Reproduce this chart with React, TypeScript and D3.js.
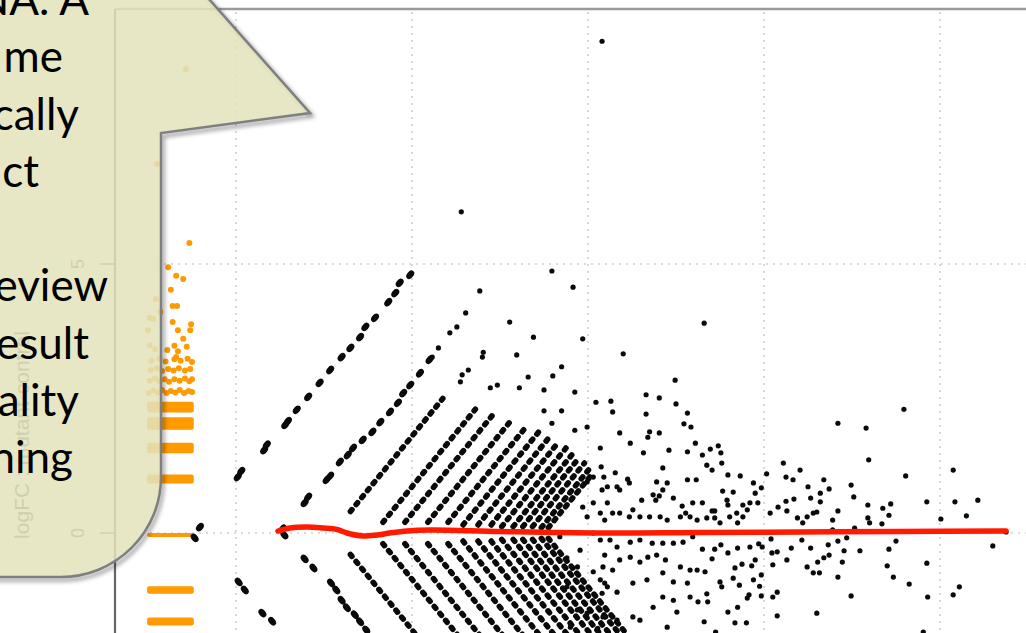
import React from "react";
import * as d3 from "d3";

const W = 1026;
const H = 633;

// ---------- data ----------
const xGridTicks = [0, 2, 4, 6, 8];
const yTicks = [0, 5];
const yTickLabels = ["0", "5"];
const yAxisTitle = "logFC : mutant-control";

// A range of the orange smear (genes with zero counts in one group)
const smearRange = [-1.01, -0.48];
// logFC ranges of the dense smear levels [low, high]
const orangeLevels: [number, number][] = [
  [-1.71, -1.58], [-1.12, -1.0], [-0.065, -0.01], [0.93, 1.08],
  [1.49, 1.67], [1.93, 2.14], [2.25, 2.43],
];
// sparse smear points [A, logFC]
const orangePoints: [number, number][] = [
  [-0.99, 2.6], [-0.94, 2.65], [-0.89, 2.61], [-0.84, 2.66], [-0.79, 2.6], [-0.74, 2.64], [-0.69, 2.61],
  [-0.64, 2.66], [-0.59, 2.6], [-0.54, 2.64], [-0.5, 2.62],
  [-0.98, 2.83], [-0.92, 2.87], [-0.87, 2.82], [-0.81, 2.86], [-0.76, 2.81], [-0.7, 2.86], [-0.64, 2.83],
  [-0.58, 2.87], [-0.53, 2.82], [-0.5, 2.86],
  [-0.97, 3.03], [-0.9, 3.06], [-0.84, 3.01], [-0.77, 3.05], [-0.71, 3.02], [-0.65, 3.06], [-0.58, 3.02],
  [-0.52, 3.05],
  [-0.96, 3.2], [-0.87, 3.24], [-0.8, 3.19], [-0.7, 3.23], [-0.63, 3.2], [-0.55, 3.24],
  [-0.92, 3.42], [-0.78, 3.4], [-0.66, 3.38], [-0.56, 3.46], [-0.7, 3.48],
  [-0.53, 5.39], [-0.77, 4.94], [-0.68, 4.78], [-0.6, 4.72], [-0.74, 4.52], [-0.72, 4.22],
  [-0.67, 4.22], [-0.72, 3.92], [-0.51, 3.88], [-0.66, 3.77], [-0.52, 3.77], [-0.6, 3.61],
  [-0.68, 3.27], [-0.5, 3.18],
  [-0.57, 8.62], [-0.9, 6.86], [-0.91, 4.35], [-0.98, 4.0], [-0.94, 3.98], [-1.0, 3.77],
  [-0.98, 3.49], [-0.86, 4.11],
];

// discrete count bands drawn as lines [A0, M0, A1, M1]
const bandsUp: [number, number, number, number][] = [
  [1.3, 0.4, 2.35, 2.5], [1.67, 0.2, 2.72, 2.3], [1.92, 0.2, 2.92, 2.2],
  [2.18, 0.2, 3.13, 2.1], [2.41, 0.2, 3.31, 2.0], [2.58, 0.15, 3.45, 1.9],
  [2.75, 0.15, 3.57, 1.8], [2.9, 0.15, 3.67, 1.7], [3.02, 0.12, 3.76, 1.6],
  [3.15, 0.12, 3.84, 1.5], [3.26, 0.12, 3.9, 1.4], [3.37, 0.12, 3.96, 1.3],
  [3.47, 0.1, 4.02, 1.2], [3.55, 0.1, 4.05, 1.1],
];
const bandsDown: [number, number, number, number][] = [
  [1.3, -0.4, 2.1, -2.0], [1.67, -0.2, 2.57, -2.0], [1.92, -0.2, 2.82, -2.0],
  [2.18, -0.2, 3.08, -2.0], [2.41, -0.2, 3.31, -2.0], [2.58, -0.15, 3.5, -2.0],
  [2.75, -0.15, 3.67, -2.0], [2.9, -0.15, 3.82, -2.0], [3.02, -0.12, 3.96, -2.0],
  [3.15, -0.12, 4.09, -2.0], [3.26, -0.12, 4.2, -2.0], [3.37, -0.12, 4.31, -2.0],
  [3.47, -0.1, 4.42, -2.0], [3.55, -0.1, 4.5, -2.0],
];

// black gene points [A, logFC]
const bandPoints: [number, number][] = [
  // lowest count band above zero
  [0.02, 1.04], [0.06, 1.15], [0.32, 1.54], [0.35, 1.64], [0.56, 2.01], [0.59, 2.08], [0.69, 2.29],
  [0.82, 2.53], [0.95, 2.79], [1.07, 3.03], [1.2, 3.27], [1.3, 3.44], [1.41, 3.64], [1.47, 3.83],
  [1.58, 4.0], [1.73, 4.29], [1.81, 4.46], [1.86, 4.65], [1.98, 4.8],
  // second band above zero
  [0.78, 0.56], [0.82, 0.67], [1.03, 0.99], [1.07, 1.06], [1.18, 1.32], [1.27, 1.45], [1.33, 1.58],
  [1.44, 1.73], [1.55, 1.88], [1.64, 2.06], [1.75, 2.25], [1.84, 2.42], [1.9, 2.6], [1.98, 2.75],
  [2.09, 2.97], [2.2, 3.22],
  // near zero
  [-0.41, 0.11], [-0.47, -0.09], [0.53, 0.08], [0.55, -0.04],
  // bands below zero
  [0.03, -0.91], [0.1, -1.06], [0.3, -1.49], [0.41, -1.64],
  [0.78, -0.48], [0.88, -0.65], [1.08, -0.93], [1.14, -1.06], [1.2, -1.25], [1.26, -1.39],
  [1.35, -1.52], [1.41, -1.65], [1.48, -1.8],
];
const scatterPoints: [number, number][] = [
  [4.16, 9.14], [2.56, 5.97], [3.59, 4.87], [3.83, 4.57], [2.77, 4.5], [2.61, 4.09], [3.11, 3.92],
  [2.51, 3.83], [2.43, 3.72], [3.38, 3.64], [3.94, 3.61], [2.3, 3.44], [2.23, 3.27], [2.81, 3.36],
  [2.8, 3.27], [3.19, 3.31], [4.4, 3.33], [2.64, 3.03], [2.57, 2.94], [2.55, 2.81], [3.32, 2.9],
  [3.6, 2.92], [3.7, 3.09], [4.99, 2.84], [2.89, 2.7], [2.97, 2.75], [3.22, 2.7], [3.5, 2.66],
  [3.85, 2.62], [4.66, 2.57], [4.81, 2.51], [4.09, 2.43], [4.26, 2.45], [5.0, 2.4], [4.28, 2.25],
  [4.66, 2.21], [5.13, 2.23], [3.5, 2.27], [3.7, 2.27], [3.59, 2.04], [3.85, 1.91], [3.99, 1.97],
  [4.14, 1.58], [4.36, 1.86], [4.48, 1.67], [4.7, 1.88], [4.81, 1.86], [4.68, 1.78], [5.09, 2.03],
  [5.17, 1.97], [4.92, 1.54], [4.63, 1.49], [5.13, 1.51], [5.22, 1.67], [4.15, 1.23], [4.18, 1.04],
  [4.31, 1.12], [4.85, 1.21], [4.45, 1.0], [4.47, 0.93], [4.78, 0.95], [4.9, 0.93], [4.85, 0.8],
  [5.13, 0.99], [5.23, 0.99], [4.22, 0.86], [4.33, 0.86], [4.36, 0.8], [4.61, 0.61], [4.74, 0.71],
  [4.81, 0.69], [4.77, 0.61], [4.97, 0.65], [5.07, 0.5], [5.19, 0.56], [4.9, 0.24], [4.82, 0.3],
  [4.7, 0.3], [4.59, 0.3], [4.51, 0.43], [4.47, 0.3], [4.36, 0.37], [4.28, 0.37], [4.14, 0.37],
  [5.11, 0.37], [5.16, 0.3], [5.24, 0.24], [5.05, 0.3], [4.06, 1.04], [3.99, 0.95], [4.16, 0.8],
  [4.22, 0.56], [4.06, 0.56], [3.94, 0.48], [3.99, 0.3], [4.19, 0.24],
  [5.19, -0.07], [5.08, -0.17], [4.97, -0.19], [4.85, -0.19], [4.73, -0.19], [4.59, -0.13],
  [4.48, -0.17], [4.33, -0.26], [4.25, -0.13], [4.14, -0.13], [5.16, -0.69], [5.05, -0.63],
  [4.88, -0.5], [4.78, -0.41], [4.68, -0.45], [4.59, -0.54], [4.48, -0.45], [4.36, -0.5],
  [4.28, -0.69], [4.17, -0.63], [4.14, -0.87], [4.22, -1.0], [4.33, -1.1], [4.51, -0.93],
  [4.67, -0.87], [4.85, -0.74], [4.97, -0.91], [5.13, -0.93], [5.24, -0.69], [5.25, -1.28],
  [5.16, -1.19], [4.97, -1.25], [4.85, -1.19], [4.74, -1.38], [4.59, -1.62], [4.51, -1.56],
  [4.33, -1.62], [4.17, -1.56], [4.9, -1.75], [5.01, -1.47], [4.19, -0.41], [4.06, -0.72],
  [4.19, -0.93], [4.16, -1.12], [3.99, -1.49], [4.11, -1.77], [3.8, -1.75], [3.88, -1.43],
  [3.76, -1.0], [3.88, -0.63], [3.76, -0.46], [3.91, -0.32], [3.68, -0.07], [4.06, 0.0],
  [5.32, 3.9], [7.59, 2.3], [6.84, 2.04], [7.16, 1.95], [7.19, 1.36], [7.61, 1.06], [8.15, 1.17],
  [6.22, 1.3], [6.41, 1.17], [6.03, 1.1], [5.73, 1.06], [5.59, 1.08], [5.52, 1.3], [5.48, 1.62],
  [5.39, 1.56], [5.51, 1.49], [5.35, 1.26], [5.41, 1.17], [5.3, 1.45], [6.25, 1.04], [6.33, 0.99],
  [6.68, 0.99], [6.5, 0.86], [6.74, 0.82], [6.64, 0.74], [6.64, 0.58], [6.99, 0.89], [7.02, 0.67],
  [6.34, 0.63], [6.25, 0.59], [6.53, 0.65], [5.88, 0.93], [5.97, 0.84], [5.9, 0.74], [5.53, 0.78],
  [5.65, 0.76], [5.76, 0.52], [5.84, 0.56], [5.93, 0.56], [5.69, 0.37], [5.81, 0.43], [5.76, 0.3],
  [5.58, 0.61], [5.59, 0.52], [5.41, 0.41], [5.44, 0.41], [5.3, 0.56], [5.35, 0.28], [5.44, 0.28],
  [5.5, 0.19], [5.7, 0.19], [5.61, 0.3], [6.07, 0.37], [6.16, 0.48], [6.26, 0.41], [6.38, 0.28],
  [6.44, 0.19], [6.49, 0.3], [6.56, 0.37], [6.6, 0.39], [6.78, 0.24], [6.84, 0.41], [7.03, 0.09],
  [7.18, 0.52], [7.18, 0.28], [7.2, 0.19], [7.34, 0.17], [7.35, 0.46], [7.42, 0.33], [7.44, 0.54],
  [7.85, 0.58], [8.17, 0.58], [8.3, 0.32], [8.43, 0.61], [8.01, 0.26], [8.75, 0.02],
  [8.6, -0.24], [5.3, -0.3], [5.44, -0.3], [5.51, -0.22], [5.41, -0.48], [5.59, -0.37], [5.7, -0.28],
  [5.84, -0.26], [5.94, -0.2], [5.98, -0.26], [6.08, -0.11], [6.09, -0.37], [6.15, -0.35],
  [6.31, -0.28], [6.43, -0.13], [6.53, -0.28], [6.73, -0.22], [6.74, -0.41], [6.78, 0.06],
  [6.84, -0.15], [6.91, -0.33], [6.94, -0.09], [7.09, -0.33], [7.42, -0.3], [7.5, -0.15],
  [5.75, -0.58], [5.67, -0.65], [5.86, -0.61], [5.9, -0.5], [5.33, -0.72], [5.5, -0.91],
  [5.52, -1.0], [5.65, -0.84], [5.72, -0.97], [5.88, -0.87], [5.97, -0.78], [5.95, -0.99],
  [6.1, -0.59], [6.1, -1.19], [6.15, -1.1], [6.26, -0.5], [6.49, -0.63], [6.56, -0.74],
  [6.63, -0.74], [6.61, -0.54], [6.68, -0.46], [6.84, -0.82], [6.89, -0.54], [6.99, -1.17],
  [7.4, -0.61], [7.47, -0.82], [7.65, -0.95], [7.85, -0.56], [7.86, -1.19], [8.15, -1.15],
  [8.22, -1.0], [5.35, -1.13], [5.36, -1.28], [5.32, -1.65], [5.59, -1.47], [5.7, -1.38],
  [5.67, -1.67], [5.8, -1.67], [5.81, -1.21], [5.83, -1.15], [5.97, -1.17], [6.15, -1.54],
  [6.6, -1.49], [7.81, -1.84], [5.45, -1.84],
];

// lowess trend [A, logFC]
const lowessCurve: [number, number][] = [
  [0.477, 0.037], [0.614, 0.093], [0.807, 0.112], [0.989, 0.093], [1.148, 0.065], [1.261, 0.0],
  [1.443, -0.056], [1.602, -0.037], [1.75, 0.0], [1.943, 0.037], [2.205, 0.056], [3.0, 0.028],
  [4.136, 0.0], [5.273, 0.009], [6.409, 0.019], [7.545, 0.028], [8.75, 0.037],
];

const calloutText = ["NA. A", "me", "cally", "ct", "", "eview", "esult", "ality", "ning"];
const calloutTextEnds = [89, 63, 79, 39, 0, 108, 89, 79, 73];

// ---------- layout ----------
const plotLeft = 115;
const plotTop = 9;
const x = d3.scaleLinear().domain([-1.375, 10]).range([plotLeft, plotLeft + 11.375 * 88]);
const y = d3.scaleLinear().domain([-2.5, 9.74]).range([533 + 2.5 * 53.8, 533 - 9.74 * 53.8]);

const ORANGE = "#ff9a00";
const DOT = "#0a0a0a";

export default function App() {
  const line = d3
    .line<[number, number]>()
    .x((d) => x(d[0]))
    .y((d) => y(d[1]))
    .curve(d3.curveCatmullRom.alpha(0.5));

  const calloutPath =
    "M -20,-20 L 192,-20 L 310,113 L 161,133 L 161,477 A 100 100 0 0 1 61,577 L -20,577 Z";

  return (
    <svg
      width={W}
      height={H}
      style={{ position: "fixed", left: 0, top: 0, background: "#fff" }}
      xmlns="http://www.w3.org/2000/svg"
    >
      <defs>
        <filter id="shadow" x="-20%" y="-20%" width="140%" height="140%">
          <feGaussianBlur stdDeviation="2.2" />
        </filter>
      </defs>
      <rect x={0} y={0} width={W} height={H} fill="#fff" />

      {/* grid */}
      <g stroke="#cfcfcf" strokeWidth={1.6} strokeDasharray="2 5">
        {xGridTicks.map((t) => (
          <line key={"gx" + t} x1={x(t)} x2={x(t)} y1={plotTop + 3} y2={H} />
        ))}
        {yTicks.map((t) => (
          <line key={"gy" + t} x1={plotLeft} x2={W} y1={y(t)} y2={y(t)} />
        ))}
      </g>

      {/* orange smear */}
      <g fill={ORANGE}>
        {orangeLevels.map((d, i) => (
          <rect
            key={"ol" + i}
            x={x(smearRange[0])}
            width={x(smearRange[1]) - x(smearRange[0])}
            y={y(d[1]) - 0.5}
            height={Math.max(2.5, y(d[0]) - y(d[1]) + 1)}
            rx={2}
          />
        ))}
        {orangePoints.map((d, i) => (
          <circle key={"op" + i} cx={x(d[0])} cy={y(d[1])} r={3} />
        ))}
      </g>

      {/* count bands */}
      <g stroke={DOT} strokeWidth={5.6} strokeLinecap="round" strokeDasharray="2.4 6.6">
        {bandsUp.concat(bandsDown).map((b, i) => (
          <line key={"b" + i} x1={x(b[0])} y1={y(b[1])} x2={x(b[2])} y2={y(b[3])} />
        ))}
      </g>

      {/* black gene points */}
      <g fill={DOT}>
        {bandPoints.map((d, i) => (
          <ellipse
            key={"bp" + i}
            cx={x(d[0])}
            cy={y(d[1])}
            rx={4.8}
            ry={3.2}
            transform={`rotate(${d[1] >= 0 ? -50 : 50} ${x(d[0])} ${y(d[1])})`}
          />
        ))}
        {scatterPoints.map((d, i) => (
          <circle key={"sp" + i} cx={x(d[0])} cy={y(d[1])} r={2.6} />
        ))}
      </g>

      {/* lowess line */}
      <path d={line(lowessCurve) || ""} fill="none" stroke="#ff1a00" strokeWidth={5.5} strokeLinecap="round" />

      {/* frame */}
      <line x1={plotLeft} x2={W} y1={plotTop} y2={plotTop} stroke="#9a9a9a" strokeWidth={2.6} />
      <line x1={plotLeft} x2={plotLeft} y1={plotTop} y2={H} stroke="#666" strokeWidth={2.2} />

      {/* y axis */}
      <g stroke="#666" strokeWidth={1.6}>
        {yTicks.map((t) => (
          <line key={"yt" + t} x1={plotLeft - 15} x2={plotLeft} y1={y(t)} y2={y(t)} />
        ))}
      </g>
      <g fill="#555" fontFamily="'Liberation Sans', Arial, sans-serif" fontSize={18}>
        {yTicks.map((t, i) => (
          <text key={"yl" + t} transform={`translate(84,${y(t)}) rotate(-90)`} textAnchor="middle">
            {yTickLabels[i]}
          </text>
        ))}
        <text transform={`translate(29,435) rotate(-90)`} textAnchor="middle" fontSize={21}>
          {yAxisTitle}
        </text>
      </g>

      {/* callout */}
      <path d={calloutPath} fill="none" stroke="#000" strokeOpacity={0.45} strokeWidth={3} transform="translate(2,3)" filter="url(#shadow)" />
      <path d={calloutPath} fill="#e3e3bb" fillOpacity={0.86} stroke="#7f7f7f" strokeWidth={2.5} strokeLinejoin="miter" />
      <g fill="#000" fontFamily="Lato, 'Open Sans', sans-serif" fontSize={44}>
        {calloutText.map((s, i) => (
          <text key={"ct" + i} x={calloutTextEnds[i]} y={15 + 57.25 * i} textAnchor="end">
            {s}
          </text>
        ))}
      </g>
    </svg>
  );
}
